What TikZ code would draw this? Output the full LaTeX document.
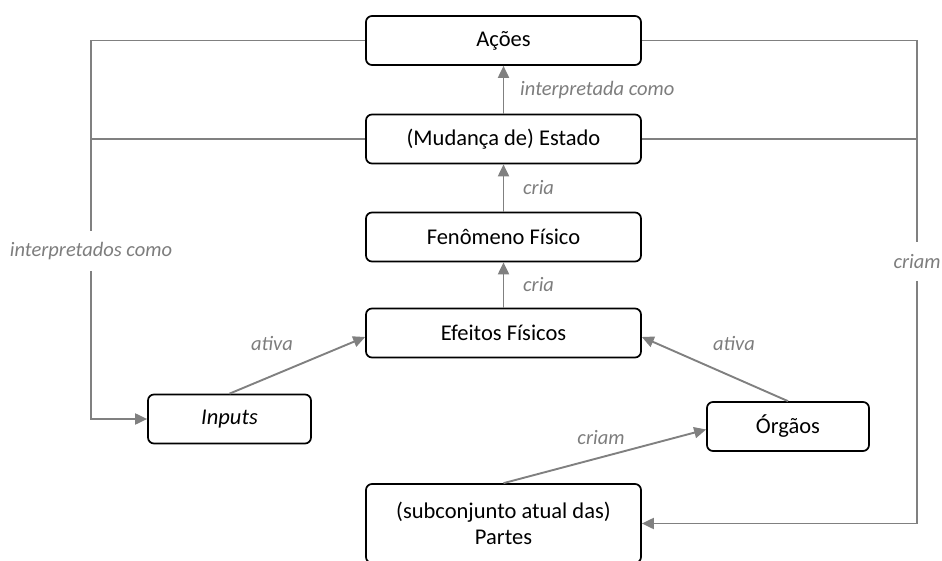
\documentclass[tikz,border=0pt]{standalone}
\usepackage{fontspec}
\setmainfont{Carlito}
\usetikzlibrary{arrows.meta}
\definecolor{linkgray}{RGB}{128,128,128}
\definecolor{taggray}{RGB}{125,125,125}

\begin{document}
\begin{tikzpicture}[x=1pt,y=-1pt,
  box/.style={draw,rounded corners=6pt,line width=1.7pt,minimum width=275pt,
    minimum height=49pt,align=center,font=\fontsize{22.5}{26}\selectfont},
  tag/.style={text=taggray,inner sep=0pt,font=\fontsize{20.5}{24}\selectfont\itshape},
  wire/.style={draw=linkgray,line width=1.9pt},
  link/.style={wire,-{Triangle[length=12pt,width=11pt]}}]
\useasboundingbox (0,0) rectangle (942,561);

% Boxes
\node[box] (acoes) at (503.5,40.5) {Ações};
\node[box] (estado) at (503.5,139) {(Mudança de) Estado};
\node[box] (fenomeno) at (503.5,237) {Fenômeno Físico};
\node[box] (efeitos) at (503.5,333) {Efeitos Físicos};
\node[box,minimum width=163pt] (inputs) at (229.5,419) {\itshape Inputs};
\node[box,minimum width=162pt] (orgaos) at (788,426.5) {Órgãos};
\node[box,minimum height=79pt] (partes) at (503.5,523.5) {(subconjunto atual das)\\Partes};

% Labels
\node[tag,anchor=west] (tinterp) at (520,90) {interpretada como};
\node[tag,anchor=west] (tcria1) at (523,188) {cria};
\node[tag,anchor=west] (tcria2) at (523,285) {cria};
\node[tag] (tativa1) at (272,343) {ativa};
\node[tag] (tativa2) at (734,343) {ativa};
\node[tag] (tcriam1) at (601,438) {criam};
\node[tag,inner ysep=11pt] (tinterps) at (91,251) {interpretados como};
\node[tag,inner ysep=12pt] (tcriam2) at (917,261.5) {criam};

% Vertical chain
\draw[link] (estado) -- (acoes);
\draw[link] (fenomeno) -- (estado);
\draw[link] (efeitos) -- (fenomeno);

% Slanted arrows
\draw[link] (inputs.north) -- ([yshift=-4pt]efeitos.west);
\draw[link] (orgaos.north) -- ([yshift=-4pt]efeitos.east);
\draw[link] (partes.north) -- ([yshift=-3pt]orgaos.west);

% Left loop
\draw[wire] (acoes.west) -| (tinterps.north);
\draw[wire] (estado.west) -- (estado.west -| tinterps.north);
\draw[link] (tinterps.south) |- (inputs.west);

% Right loop
\draw[wire] (acoes.east) -| (tcriam2.north);
\draw[wire] (estado.east) -- (estado.east -| tcriam2.north);
\draw[link] (tcriam2.south) |- (partes.east);
\end{tikzpicture}
\end{document}
